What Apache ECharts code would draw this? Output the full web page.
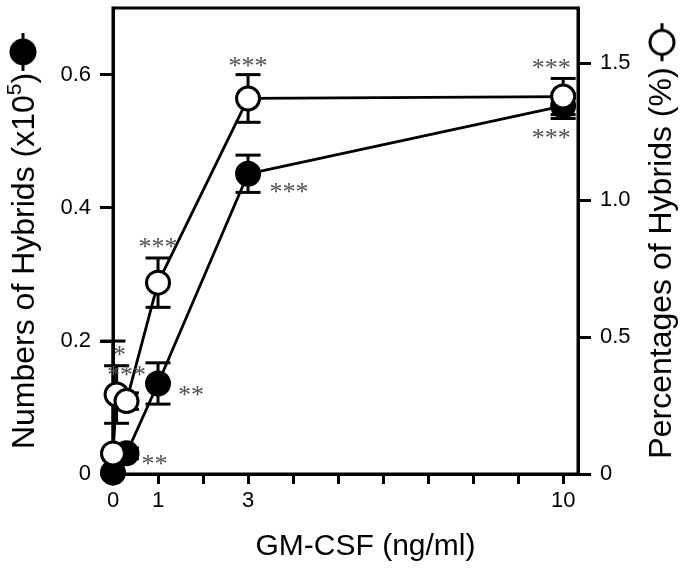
<!DOCTYPE html>
<html>
<head>
<meta charset="utf-8">
<script src="https://cdn.jsdelivr.net/npm/echarts@6/dist/echarts.min.js"></script>
<style>
html,body{margin:0;padding:0;background:#fff;}
#chart{width:683px;height:577px;}
</style>
</head>
<body>
<div id="chart"></div>
<script>
// ---- data ----
const xTickValues = [0,1,2,3,4,5,6,7,8,9,10];
const xLabelValues = [0,1,3,10];
const leftTickValues = [0,0.2,0.4,0.6];
const rightTickValues = [0,0.5,1.0,1.5];

// Numbers of hybrids (x10^5), filled circles, left axis
const filledX = [0, 0.3, 1, 3, 10];
const filledY = [0.002, 0.031, 0.136, 0.451, 0.553];
const filledErr = [0, 0.008, 0.031, 0.028, 0.019];
const filledStars = ['', '**', '**', '***', '***'];

// Percentages of hybrids (%), open circles, right axis
const openX = [0, 0.08, 0.3, 1, 3, 10];
const openY = [0.075, 0.29, 0.266, 0.698, 1.37, 1.377];
const openErr = [0.41, 0.105, 0.03, 0.09, 0.087, 0.066];
const openStars = ['', '*', '***', '***', '***', '***'];

// annotation placement (pixel offsets of the star labels from their markers)
const filledStarOffsets = [[0,0],[28,12],[33,13],[41,19],[-12,33]];
const openStarOffsets = [[0,0],[3,-38],[0,-25],[0,-34],[0,-31],[-12,-27]];

// ---- symbols for axis titles ----
function makeSym(filled){
  const c = document.createElement('canvas');
  c.width = 38; c.height = 28;
  const g = c.getContext('2d');
  g.strokeStyle = '#000'; g.lineWidth = 2.8;
  g.beginPath(); g.moveTo(0,14); g.lineTo(38,14); g.stroke();
  g.beginPath(); g.arc(19,14,12,0,Math.PI*2);
  g.fillStyle = filled ? '#000' : '#fff';
  g.fill(); g.stroke();
  return c;
}

const chart = echarts.init(document.getElementById('chart'), null, {renderer:'canvas'});

const starLabelStyle = {fontFamily:'Liberation Serif', fontSize:26, color:'#505050'};

function buildLineData(xs, ys, stars, offs){
  return xs.map((x,i)=>({
    value:[x, ys[i]],
    label: stars[i] ? Object.assign({show:true, position:'inside', formatter: stars[i], offset: offs[i]}, starLabelStyle) : {show:false}
  }));
}
function buildErrData(xs, ys, errs){
  return xs.map((x,i)=>[x, ys[i]-errs[i], ys[i]+errs[i]]);
}

function errRender(params, api){
  const x = api.value(0);
  let lo = api.value(1), hi = api.value(2);
  const cs = params.coordSys;
  const pHi = api.coord([x, hi]);
  let pLo = api.coord([x, lo]);
  const bottom = cs.y + cs.height;
  let lowCap = true;
  if (pLo[1] > bottom) { pLo = [pLo[0], bottom]; lowCap = false; }
  const hw = 12.5;
  const st = {stroke:'#000', lineWidth:3, fill:null};
  const children = [
    {type:'line', shape:{x1:pHi[0], y1:pHi[1], x2:pLo[0], y2:pLo[1]}, style:st},
    {type:'line', shape:{x1:pHi[0]-hw, y1:pHi[1], x2:pHi[0]+hw, y2:pHi[1]}, style:st}
  ];
  if (lowCap) children.push({type:'line', shape:{x1:pLo[0]-hw, y1:pLo[1], x2:pLo[0]+hw, y2:pLo[1]}, style:st});
  return {type:'group', children};
}

const tickFont = {fontFamily:'Liberation Sans', fontSize:22, color:'#000'};
const titleFont = {fontFamily:'Liberation Sans', fontSize:30, color:'#000'};
const yTitleFont = {fontFamily:'Liberation Sans', fontSize:32, color:'#000'};

const option = {
  animation:false,
  backgroundColor:'#fff',
  grid:{left:113, right:105, top:8, bottom:103, show:true, borderColor:'#000', borderWidth:3, containLabel:false, outerBoundsMode:'none'},
  xAxis:{
    type:'value', min:0, max:10.33, interval:1,
    axisLine:{show:true, onZero:false, lineStyle:{color:'#000', width:3}},
    axisTick:{show:true, length:10, lineStyle:{color:'#000', width:3}, customValues:xTickValues},
    axisLabel:Object.assign({margin:16, customValues:xLabelValues, formatter:v=>String(v)}, tickFont),
    splitLine:{show:false},
    name:'GM-CSF (ng/ml)', nameLocation:'middle', nameGap:58,
    nameTextStyle:Object.assign({padding:[0,0,0,40]}, titleFont)
  },
  yAxis:[
    {
      type:'value', min:0, max:0.7, position:'left',
      axisLine:{show:true, lineStyle:{color:'#000', width:3}},
      axisTick:{show:true, length:13, lineStyle:{color:'#000', width:3}, customValues:leftTickValues},
      axisLabel:Object.assign({margin:22, customValues:leftTickValues, formatter:v=> v===0?'0':v.toFixed(1)}, tickFont),
      splitLine:{show:false},
      name:'{t|Numbers of Hybrids (x10}{s|5}{t|)}{g| }{sym|}',
      nameLocation:'middle', nameRotate:90, nameGap:72,
      nameTextStyle:{
        rich:{
          t:Object.assign({lineHeight:36, verticalAlign:'bottom'}, yTitleFont),
          s:{fontFamily:'Liberation Sans', fontSize:21, color:'#000', lineHeight:21, verticalAlign:'top'},
          g:{fontSize:4, width:2},
          sym:{width:38, height:28, backgroundColor:{image:makeSym(true)}}
        }
      }
    },
    {
      type:'value', min:0, max:1.7, position:'right',
      axisLine:{show:true, lineStyle:{color:'#000', width:3}},
      axisTick:{show:true, length:13, lineStyle:{color:'#000', width:3}, customValues:rightTickValues},
      axisLabel:Object.assign({margin:22, customValues:rightTickValues, formatter:v=> v===0?'0':v.toFixed(1)}, tickFont),
      splitLine:{show:false},
      name:'{t|Percentages of Hybrids (%)}{g| }{sym|}',
      nameLocation:'middle', nameRotate:90, nameGap:66,
      nameTextStyle:{
        rich:{
          t:Object.assign({lineHeight:36}, yTitleFont),
          g:{fontSize:6, width:6},
          sym:{width:38, height:28, backgroundColor:{image:makeSym(false)}}
        }
      }
    }
  ],
  series:[
    {type:'custom', name:'errFilled', xAxisIndex:0, yAxisIndex:0, renderItem:errRender, data:buildErrData(filledX, filledY, filledErr), z:1, silent:true},
    {type:'custom', name:'errOpen', xAxisIndex:0, yAxisIndex:1, renderItem:errRender, data:buildErrData(openX, openY, openErr), z:1, silent:true},
    {
      type:'line', name:'Numbers', xAxisIndex:0, yAxisIndex:0,
      data:buildLineData(filledX, filledY, filledStars, filledStarOffsets),
      symbol:'circle', symbolSize:24, showAllSymbol:true,
      lineStyle:{color:'#000', width:2.8},
      itemStyle:{color:'#000', borderColor:'#000', borderWidth:2},
      z:3
    },
    {
      type:'line', name:'Percentages', xAxisIndex:0, yAxisIndex:1,
      data:buildLineData(openX, openY, openStars, openStarOffsets),
      symbol:'circle', symbolSize:23, showAllSymbol:true,
      lineStyle:{color:'#000', width:2.8},
      itemStyle:{color:'#fff', borderColor:'#000', borderWidth:3},
      z:4
    }
  ]
};
chart.setOption(option);
</script>
</body>
</html>
